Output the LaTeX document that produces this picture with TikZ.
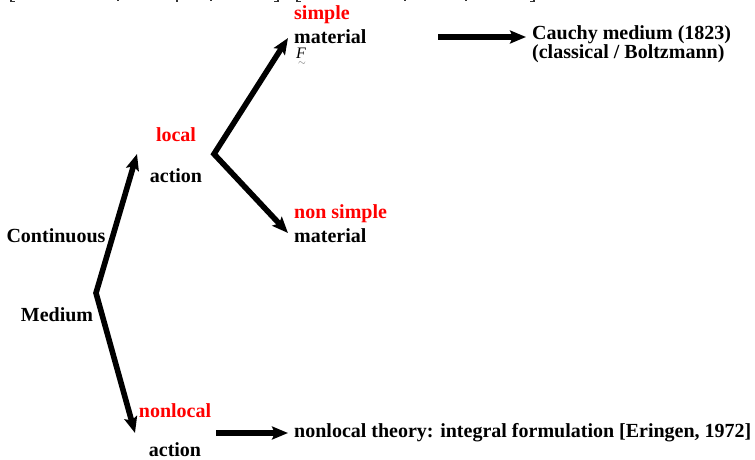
\documentclass[tikz,border=0pt]{standalone}
\usepackage{fontspec}
\setmainfont{Liberation Serif}
\usetikzlibrary{arrows.meta}
\begin{document}
\begin{tikzpicture}[x=1pt,y=-1pt,
  lbl/.style={inner sep=0pt,font=\fontsize{20}{22}\selectfont\bfseries},
  red lbl/.style={lbl,text=red},
  tip/.tip={Stealth[length=16pt,width=13pt,inset=3pt]},
  bigarrow/.style={line width=5.6pt,line join=miter,-tip},
  forkarrow/.style={line width=5.6pt,line join=miter,miter limit=20,tip-tip},
  frag/.style={fill=black!80}]
\useasboundingbox (0,0) rectangle (755,460);
% clipped fragments of a line above the picture
\fill[frag] (10,0) rectangle (12,2.5); \fill[frag] (10,1.2) rectangle (15,2.5);
\fill[frag] (117,0) rectangle (118.5,1.5);
\fill[frag] (176,0) rectangle (177.5,2.5);
\fill[frag] (210,0) rectangle (211.5,1.5);
\fill[frag] (277,0) rectangle (279,2.5); \fill[frag] (274,1.2) rectangle (279,2.5);
\fill[frag] (296,0) rectangle (298,2.5); \fill[frag] (296,1.2) rectangle (301,2.5);
\fill[frag] (404,0) rectangle (405.5,1.5);
\fill[frag] (465,0) rectangle (466.5,1.5);
\fill[frag] (533,0) rectangle (535,2.5); \fill[frag] (530,1.2) rectangle (535,2.5);
% labels
\node[lbl] (cont) at (56,236) {Continuous};
\node[lbl] (med) at (57,315) {Medium};
\node[red lbl] (local) at (176,135) {local};
\node[lbl] (action1) at (176,176) {action};
\node[red lbl] (nonlocal) at (175,411) {nonlocal};
\node[lbl] (action2) at (175,450) {action};
\node[red lbl,anchor=west] (simple) at (294,15) {simple};
\node[lbl,anchor=west] (mat1) at (294,37) {material};
\node[inner sep=0pt,anchor=base west,font=\fontsize{16}{16}\selectfont\itshape] (F) at (296,58.5) {F};
\node[inner sep=0pt,text=black!60,font=\fontsize{10}{10}\selectfont] (tilde) at (302,63.5) {$\sim$};
\node[red lbl,anchor=west] (nonsimple) at (294,214) {non simple};
\node[lbl,anchor=west] (mat2) at (294,236) {material};
\node[lbl,anchor=west] (cauchy) at (532,35) {Cauchy medium (1823)};
\node[lbl,anchor=west] (classical) at (532,54) {(classical / Boltzmann)};
\node[lbl,anchor=west] (nltheory) at (294,433) {nonlocal theory: integral formulation [Eringen, 1972]};
% connectors
\coordinate (fork1) at (96,293);
\coordinate (tip1) at (137,154);
\coordinate (tip2) at (135,433);
\coordinate (fork2) at (214,154);
\coordinate (tip3) at (288,38);
\coordinate (tip4) at (288,233);
\coordinate (t5) at (438,37);
\coordinate (tip5) at (526,37);
\coordinate (t6) at (216,433);
\coordinate (tip6) at (288,433);
\draw[forkarrow] (tip1) -- (fork1) -- (tip2);
\draw[forkarrow] (tip3) -- (fork2) -- (tip4);
\draw[bigarrow] (t5) -- (tip5);
\draw[bigarrow] (t6) -- (tip6);
\end{tikzpicture}
\end{document}
